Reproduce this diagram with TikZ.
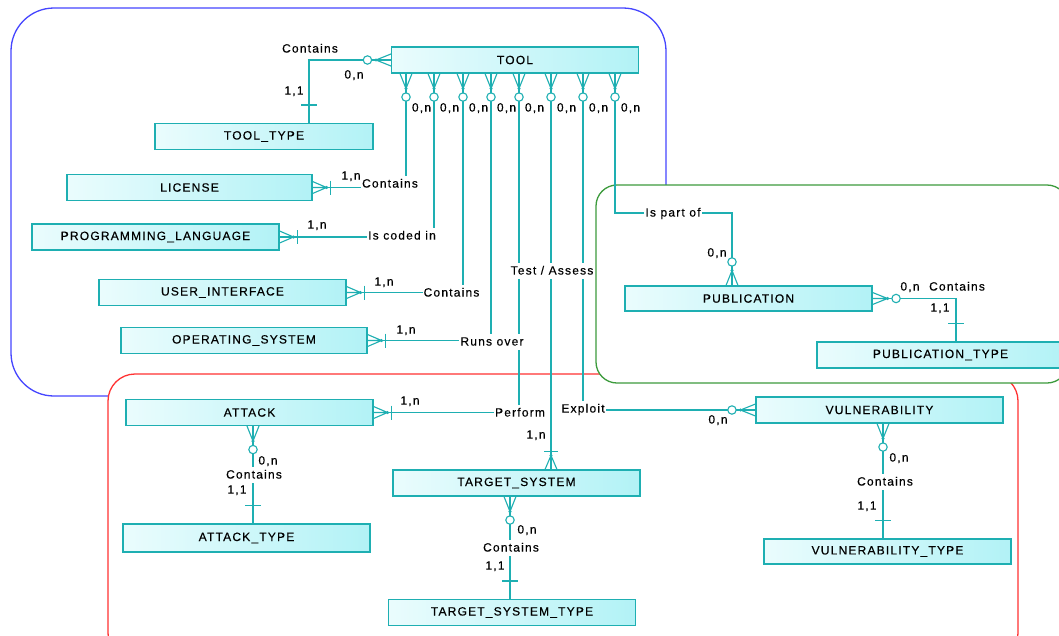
\documentclass[tikz,border=0pt]{standalone}
\usepackage{fontspec}
\setmainfont{Liberation Sans}[LetterSpace=10, FakeBold=0.35]
\usetikzlibrary{calc}
\definecolor{teal1}{RGB}{30,175,178}
\definecolor{entL}{RGB}{234,252,253}
\definecolor{entR}{RGB}{178,242,246}
\definecolor{grpblue}{RGB}{70,70,255}
\definecolor{grpred}{RGB}{255,50,50}
\definecolor{grpgreen}{RGB}{60,155,60}
\tikzset{
  ent/.style={draw=teal1, line width=1.1pt, left color=entL, right color=entR,
    minimum width=247pt, minimum height=26pt, inner sep=0pt,
    font=\fontsize{12}{14}\selectfont},
  rel/.style={draw=teal1, line width=1.1pt},
  lbl/.style={font=\fontsize{12}{14}\selectfont, inner sep=1.5pt, text height=8.6pt, text depth=1.5pt},
  rlbl/.style={lbl, fill=white, inner xsep=1pt, inner ysep=2.5pt},
  grp/.style={line width=1.3pt, fill=white},
  pics/manyzero/.style={code={
    \draw[rel] (15,0) -- (0,-6) (15,0) -- (0,6) (15,0) -- (0,0);
    \fill[teal1] (15,0) circle (1.7);
    \draw[rel, fill=white] (23.5,0) circle (4.2);
  }},
  pics/manyone/.style={code={
    \draw[rel] (14,0) -- (0,-6) (14,0) -- (0,6) (14,0) -- (0,0);
    \fill[teal1] (14,0) circle (1.7);
    \draw[rel] (18,-7) -- (18,7);
  }},
  pics/onetick/.style={code={
    \draw[rel] (18,-8) -- (18,8);
  }},
}
\begin{document}
\begin{tikzpicture}[x=1pt, y=-1pt]
\path[use as bounding box, clip] (0,0) rectangle (1059,635);
\fill[white] (0,0) rectangle (1059,635);

% groups
\draw[grp, draw=grpblue, rounded corners=43pt] (11,8) rectangle (666,396);
\draw[grp, draw=grpred, rounded corners=27pt] (108,374) rectangle (1018,660);
\draw[grp, draw=grpgreen, rounded corners=21pt] (596,185) rectangle (1068,383);

% entities
\node[ent] (TOOL) at (515,60) {TOOL};
\node[ent, minimum width=218pt] (TT) at (264,136.5) {TOOL\_TYPE};
\node[ent, minimum width=245pt] (LIC) at (189.5,187.5) {LICENSE};
\node[ent] (PL) at (155.5,237) {PROGRAMMING\_LANGUAGE};
\node[ent] (UI) at (222.5,292.5) {USER\_INTERFACE};
\node[ent, minimum width=246pt] (OS) at (244,340.5) {OPERATING\_SYSTEM};
\node[ent] (ATT) at (249.5,412.5) {ATTACK};
\node[ent, minimum height=28pt] (AT) at (246.5,538) {ATTACK\_TYPE};
\node[ent] (TS) at (516.5,483) {TARGET\_SYSTEM};
\node[ent] (TST) at (512,612.5) {TARGET\_SYSTEM\_TYPE};
\node[ent] (VUL) at (879.5,410) {VULNERABILITY};
\node[ent, minimum height=25pt] (VT) at (887.5,551.5) {VULNERABILITY\_TYPE};
\node[ent, minimum height=25pt] (PUB) at (748.5,298.5) {PUBLICATION};
\node[ent] (PT) at (940.5,355) {PUBLICATION\_TYPE};

% x positions
\coordinate (x1) at (406,0);
\coordinate (x2) at (434,0);
\coordinate (x3) at (463,0);
\coordinate (x4) at (491,0);
\coordinate (x5) at (519,0);
\coordinate (x6) at (551,0);
\coordinate (x7) at (583,0);
\coordinate (x8) at (615,0);
\coordinate (ttx) at (309,0);
\coordinate (pb) at (732,213);
\coordinate (ptx) at (956,0);
\coordinate (ax) at (253,0);
\coordinate (tsx) at (510,0);
\coordinate (vx) at (883,0);

% connectors
\draw[rel] (TOOL.west) -- (ttx |- TOOL.west) -- (ttx |- TT.north);
\draw[rel] (x1 |- TOOL.south) -- (x1 |- LIC.east) -- (LIC.east);
\draw[rel] (x2 |- TOOL.south) -- (x2 |- PL.east) -- (PL.east);
\draw[rel] (x3 |- TOOL.south) -- (x3 |- UI.east) -- (UI.east);
\draw[rel] (x4 |- TOOL.south) -- (x4 |- OS.east) -- (OS.east);
\draw[rel] (x5 |- TOOL.south) -- (x5 |- ATT.east) -- (ATT.east);
\draw[rel] (x6 |- TOOL.south) -- (x6 |- TS.north);
\draw[rel] (x7 |- TOOL.south) -- (x7 |- VUL.west) -- (VUL.west);
\draw[rel] (x8 |- TOOL.south) -- (x8 |- pb) -- (pb) -- (pb |- PUB.north);
\draw[rel] (PUB.east) -- (ptx |- PUB.east) -- (ptx |- PT.north);
\draw[rel] (ax |- ATT.south) -- (ax |- AT.north);
\draw[rel] (tsx |- TS.south) -- (tsx |- TST.north);
\draw[rel] (vx |- VUL.south) -- (vx |- VT.north);

% ends
\pic[rotate=180] at (TOOL.west) {manyzero};
\pic[rotate=90] at (ttx |- TT.north) {onetick};
\foreach \c in {x1,x2,x3,x4,x5,x6,x7,x8}
  \pic[rotate=-90] at (\c |- TOOL.south) {manyzero};
\pic at (LIC.east) {manyone};
\pic at (PL.east) {manyone};
\pic at (UI.east) {manyone};
\pic at (OS.east) {manyone};
\pic at (ATT.east) {manyone};
\pic[rotate=90] at (x6 |- TS.north) {manyone};
\pic[rotate=180] at (VUL.west) {manyzero};
\pic[rotate=90] at (pb |- PUB.north) {manyzero};
\pic at (PUB.east) {manyzero};
\pic[rotate=90] at (ptx |- PT.north) {onetick};
\pic[rotate=-90] at (ax |- ATT.south) {manyzero};
\pic[rotate=90] at (ax |- AT.north) {onetick};
\pic[rotate=-90] at (tsx |- TS.south) {manyzero};
\pic[rotate=90] at (tsx |- TST.north) {onetick};
\pic[rotate=-90] at (vx |- VUL.south) {manyzero};
\pic[rotate=90] at (vx |- VT.north) {onetick};

% relationship names
\node[lbl] (rTT) at (310,49) {Contains};
\node[rlbl] (rLIC) at (390,184) {Contains};
\node[rlbl] (rPL) at (402,236) {Is coded in};
\node[rlbl] (rUI) at (451.5,293) {Contains};
\node[rlbl] (rOS) at (492,342) {Runs over};
\node[rlbl] (rATT) at (520,413) {Perform};
\node[rlbl] (rTS) at (552,271) {Test / Assess};
\node[rlbl] (rVUL) at (583,409) {Exploit};
\node[rlbl] (rPUB) at (673,213) {Is part of};
\node[lbl] (rPT) at (957,287) {Contains};
\node[rlbl] (rAT) at (254,475) {Contains};
\node[rlbl] (rTST) at (511,548) {Contains};
\node[rlbl] (rVT) at (885,482) {Contains};

% cardinalities
\node[lbl] (cTT1) at (354,75) {0,n};
\node[lbl] (cTT2) at (294,91) {1,1};
\foreach \c/\n in {406/a,434/b,463/c,491/d,519/e,551/f,583/g,615/h}
  \node[lbl] (z\n) at (\c+15.5,108) {0,n};
\node[lbl] (cLIC) at (351,176) {1,n};
\node[lbl] (cPL) at (317,225) {1,n};
\node[lbl] (cUI) at (384,282) {1,n};
\node[lbl] (cOS) at (406,330) {1,n};
\node[lbl] (cATT) at (410,401) {1,n};
\node[lbl] (cTS) at (536,435) {1,n};
\node[lbl] (cVUL) at (718,420) {0,n};
\node[lbl] (cPUB1) at (717,253) {0,n};
\node[lbl] (cPUB2) at (910,287) {0,n};
\node[lbl] (cPT) at (940,308) {1,1};
\node[lbl] (cAT1) at (268,461) {0,n};
\node[lbl] (cAT2) at (237,490) {1,1};
\node[lbl] (cTST1) at (527,530) {0,n};
\node[lbl] (cTST2) at (495,566) {1,1};
\node[lbl] (cVT1) at (899,458) {0,n};
\node[lbl] (cVT2) at (867,506) {1,1};
\end{tikzpicture}
\end{document}
